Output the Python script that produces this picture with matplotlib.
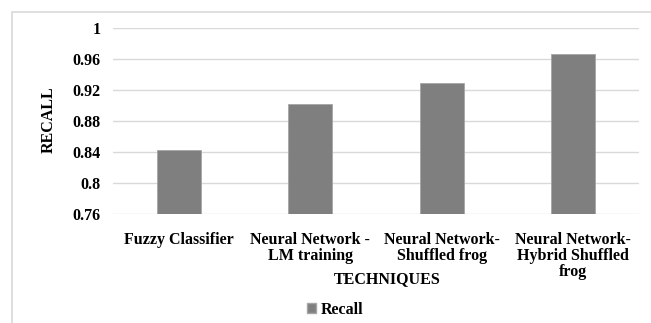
import matplotlib
matplotlib.use("Agg")
import matplotlib.pyplot as plt
from matplotlib.patches import Rectangle, Patch

categories = ["Fuzzy Classifier", "Neural Network -\nLM training",
              "Neural Network-\nShuffled frog", "Neural Network-\nHybrid Shuffled\nfrog"]
recall = [0.843, 0.902, 0.929, 0.967]
yticks = [0.76, 0.8, 0.84, 0.88, 0.92, 0.96, 1.0]
ytick_labels = ["0.76", "0.8", "0.84", "0.88", "0.92", "0.96", "1"]

plt.rcParams['font.family'] = ['Liberation Serif', 'DejaVu Serif']
plt.rcParams['font.weight'] = 'bold'
FS = 11.5

W, H = 651, 323
fig = plt.figure(figsize=(W / 100, H / 100), dpi=100)
fig.patch.set_facecolor('white')

# chart-area frame (cut off at right and bottom)
fig.patches.append(Rectangle((12 / W, -0.1), 1.2, 1 - 12 / H + 0.1,
                             transform=fig.transFigure, fill=False,
                             edgecolor='#d9d9d9', linewidth=1.2))

ax = fig.add_axes([113 / W, 1 - 214 / H, 526 / W, 186 / H])
x = range(len(categories))
ax.bar(x, [v - 0.76 for v in recall], bottom=0.76, width=0.335,
       color='#7f7f7f', edgecolor='#a6a6a6', linewidth=0.6, zorder=3)
ax.set_xlim(-0.5, len(categories) - 0.5)
ax.set_ylim(0.76, 1.0)
ax.set_yticks(yticks)
ax.set_yticklabels(ytick_labels, fontsize=FS, fontweight='bold')
ax.set_xticks(list(x))
ax.set_xticklabels(categories, fontsize=FS, fontweight='bold', linespacing=1.0)
ax.tick_params(axis='both', length=0)
ax.tick_params(axis='y', pad=9)
ax.tick_params(axis='x', pad=13)
for s in ax.spines.values():
    s.set_visible(False)
ax.grid(axis='y', color='#d9d9d9', linewidth=1, zorder=0)
ax.set_axisbelow(True)

ax.set_ylabel("RECALL", fontsize=FS, fontweight='bold')
ax.yaxis.set_label_coords((57 - 113) / 526, (214 - 120) / 186)
ax.set_xlabel("TECHNIQUES", fontsize=FS, fontweight='bold')
ax.xaxis.set_label_coords((387 - 113) / 526, (214 - 271) / 186)

handles = [Patch(facecolor='#7f7f7f', edgecolor='#a6a6a6', label='Recall')]
fig.legend(handles=handles, loc='center', bbox_to_anchor=(335 / W, 1 - 310 / H),
           bbox_transform=fig.transFigure, frameon=False,
           prop={'size': FS, 'weight': 'bold'},
           handlelength=0.6, handleheight=0.6, handletextpad=0.3)

fig.savefig("out.png", dpi=100)
